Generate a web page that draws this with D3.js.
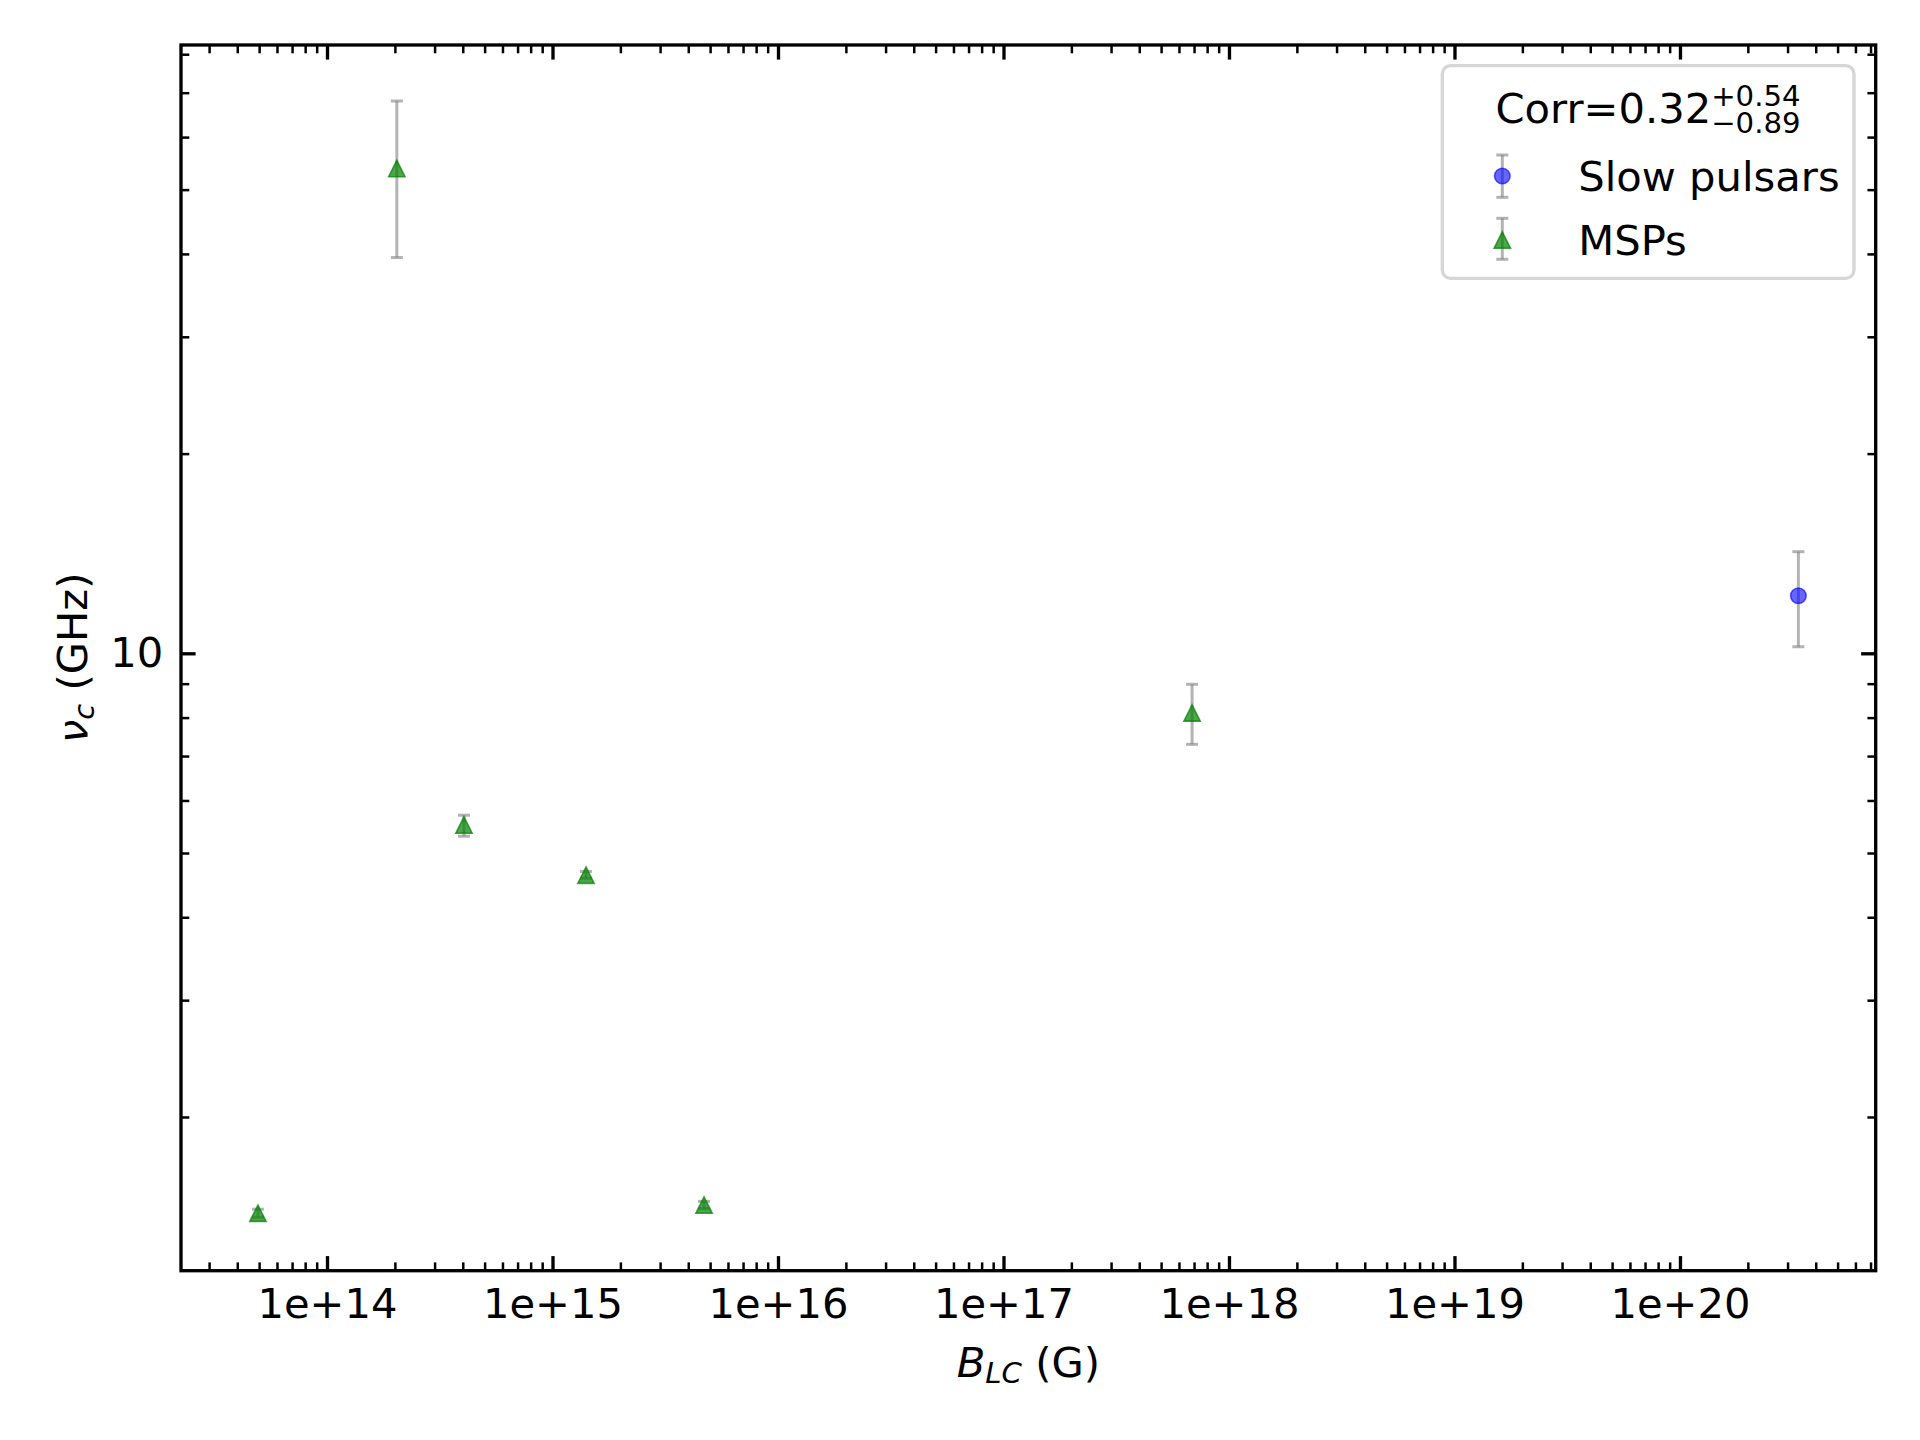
<!DOCTYPE html>
<html>
<head>
<meta charset="utf-8">
<script src="https://cdn.jsdelivr.net/npm/d3@7"></script>
<style>
  html, body { margin: 0; padding: 0; background: #fff; }
  svg { display: block; }
  text { font-family: "DejaVu Sans", sans-serif; fill: #000; }
</style>
</head>
<body>
<svg id="chart" width="1920" height="1440"></svg>
<script>
// ---------------- data ----------------
const mspB     = [4.94e13, 2.04e14, 4.05e14, 1.408e15, 4.70e15, 6.86e17];
const mspNu    = [1.432,   53.8,    5.51,    4.63,     1.473,   8.13];
const mspNuLo  = [1.412,   39.5,    5.30,    4.58,     1.455,   7.29];
const mspNuHi  = [1.452,   68.0,    5.70,    4.69,     1.492,   8.98];

const slowB    = [3.35e20];
const slowNu   = [12.21];
const slowNuLo = [10.23];
const slowNuHi = [14.23];

const xMajorTicks = [1e14, 1e15, 1e16, 1e17, 1e18, 1e19, 1e20];
const yMajorTicks = [10];
const legendLabels = ["Slow pulsars", "MSPs"];
const corrText = ["Corr=0.32", "+0.54", "\u22120.89"];

// ---------------- layout ----------------
const W = 1920, H = 1440;
const L = 181, R = 1875.7, T = 45, B = 1270.7;
const FS = 41.67;
const majorLen = 14.6, minorLen = 8.3;
const majorW = 3.33, minorW = 2.5;

const svg = d3.select("#chart");

const x = d3.scaleLog().domain([Math.pow(10, 13.3525), Math.pow(10, 20.868)]).range([L, R]);
const y = d3.scaleLog().domain([1.173, 82.6]).range([B, T]);

function minorTicks(scale) {
  const [d0, d1] = scale.domain();
  const out = [];
  for (let k = Math.floor(Math.log10(d0)) - 1; k <= Math.ceil(Math.log10(d1)); k++) {
    for (let m = 2; m <= 9; m++) {
      const v = m * Math.pow(10, k);
      if (v >= d0 && v <= d1) out.push(v);
    }
  }
  return out;
}
const xMinor = minorTicks(x);
const yMinor = minorTicks(y);

function styleAxis(g, w) {
  g.select(".domain").remove();
  g.selectAll(".tick line").attr("stroke", "#000").attr("stroke-width", w);
  g.selectAll(".tick text").attr("font-family", "DejaVu Sans").attr("font-size", FS).attr("fill", "#000");
  g.attr("font-family", null).attr("font-size", null);
}

// bottom axis
svg.append("g").attr("transform", `translate(0,${B})`)
  .call(d3.axisBottom(x).tickValues(xMinor).tickFormat("").tickSizeInner(-minorLen).tickSizeOuter(0))
  .call(g => styleAxis(g, minorW));
svg.append("g").attr("transform", `translate(0,${B})`)
  .call(d3.axisBottom(x).tickValues(xMajorTicks).tickFormat(d => "1e+" + Math.round(Math.log10(d)))
        .tickSizeInner(-majorLen).tickSizeOuter(0).tickPadding(18))
  .call(g => styleAxis(g, majorW));
// top axis
svg.append("g").attr("transform", `translate(0,${T})`)
  .call(d3.axisTop(x).tickValues(xMinor).tickFormat("").tickSizeInner(-minorLen).tickSizeOuter(0))
  .call(g => styleAxis(g, minorW));
svg.append("g").attr("transform", `translate(0,${T})`)
  .call(d3.axisTop(x).tickValues(xMajorTicks).tickFormat("").tickSizeInner(-majorLen).tickSizeOuter(0))
  .call(g => styleAxis(g, majorW));
// left axis
svg.append("g").attr("transform", `translate(${L},0)`)
  .call(d3.axisLeft(y).tickValues(yMinor).tickFormat("").tickSizeInner(-minorLen).tickSizeOuter(0))
  .call(g => styleAxis(g, minorW));
svg.append("g").attr("transform", `translate(${L},0)`)
  .call(d3.axisLeft(y).tickValues(yMajorTicks).tickFormat(d3.format("d"))
        .tickSizeInner(-majorLen).tickSizeOuter(0).tickPadding(17.7))
  .call(g => styleAxis(g, majorW));
// right axis
svg.append("g").attr("transform", `translate(${R},0)`)
  .call(d3.axisRight(y).tickValues(yMinor).tickFormat("").tickSizeInner(-minorLen).tickSizeOuter(0))
  .call(g => styleAxis(g, minorW));
svg.append("g").attr("transform", `translate(${R},0)`)
  .call(d3.axisRight(y).tickValues(yMajorTicks).tickFormat("").tickSizeInner(-majorLen).tickSizeOuter(0))
  .call(g => styleAxis(g, majorW));

// frame
svg.append("rect").attr("x", L).attr("y", T).attr("width", R - L).attr("height", B - T)
  .attr("fill", "none").attr("stroke", "#000").attr("stroke-width", 3.33);

// ---------------- marks ----------------
const errColor = "#808080", errOpacity = 0.6, errW = 3, capHalf = 6;
const triH = 8.2;
const triPath = `M0,${-triH}L${triH},${triH}L${-triH},${triH}Z`;

function drawErr(g, xs, lo, hi) {
  const data = xs.map((v, i) => ({ x: v, lo: lo[i], hi: hi[i] }));
  const e = g.append("g").attr("stroke", errColor).attr("stroke-opacity", errOpacity).attr("stroke-width", errW);
  e.selectAll("line.bar").data(data).join("line").attr("class", "bar")
    .attr("x1", d => x(d.x)).attr("x2", d => x(d.x)).attr("y1", d => y(d.lo)).attr("y2", d => y(d.hi));
  e.selectAll("line.capLo").data(data).join("line").attr("class", "capLo")
    .attr("x1", d => x(d.x) - capHalf).attr("x2", d => x(d.x) + capHalf).attr("y1", d => y(d.lo)).attr("y2", d => y(d.lo));
  e.selectAll("line.capHi").data(data).join("line").attr("class", "capHi")
    .attr("x1", d => x(d.x) - capHalf).attr("x2", d => x(d.x) + capHalf).attr("y1", d => y(d.hi)).attr("y2", d => y(d.hi));
}

const plot = svg.append("g");
drawErr(plot, slowB, slowNuLo, slowNuHi);
drawErr(plot, mspB, mspNuLo, mspNuHi);

plot.append("g").selectAll("circle").data(slowB.map((v, i) => ({ x: v, y: slowNu[i] }))).join("circle")
  .attr("cx", d => x(d.x)).attr("cy", d => y(d.y)).attr("r", 7.8)
  .attr("fill", "#0000ff").attr("fill-opacity", 0.6)
  .attr("stroke", "#0000ff").attr("stroke-opacity", 0.6).attr("stroke-width", 1.6);

plot.append("g").selectAll("path").data(mspB.map((v, i) => ({ x: v, y: mspNu[i] }))).join("path")
  .attr("transform", d => `translate(${x(d.x)},${y(d.y)})`).attr("d", triPath)
  .attr("fill", "#008000").attr("fill-opacity", 0.7)
  .attr("stroke", "#008000").attr("stroke-opacity", 0.7).attr("stroke-width", 1.6).attr("stroke-linejoin", "miter");

// ---------------- axis labels ----------------
const xl = svg.append("text").attr("x", (L + R) / 2).attr("y", 1376.7)
  .attr("text-anchor", "middle").attr("font-size", FS);
xl.append("tspan").attr("font-style", "italic").text("B");
xl.append("tspan").attr("font-style", "italic").attr("font-size", FS * 0.7).attr("dy", 6.5).text("LC");
xl.append("tspan").attr("dy", -6.5).text(" (G)");

const yl = svg.append("text").attr("transform", `translate(87.3,${(T + B) / 2}) rotate(-90)`)
  .attr("text-anchor", "middle").attr("font-size", FS);
yl.append("tspan").attr("font-style", "italic").text("\u03bd");
yl.append("tspan").attr("font-style", "italic").attr("font-size", FS * 0.7).attr("dy", 6.5).text("c");
yl.append("tspan").attr("dy", -6.5).text(" (GHz)");

// ---------------- legend ----------------
const leg = svg.append("g");
leg.append("rect").attr("x", 1442.3).attr("y", 65.7).attr("width", 1854 - 1442.3).attr("height", 278.3 - 65.7)
  .attr("rx", 8.3).attr("ry", 8.3)
  .attr("fill", "#fff").attr("fill-opacity", 0.8)
  .attr("stroke", "#d6d6d6").attr("stroke-width", 3.33);

const tMain = leg.append("text").attr("y", 123.3).attr("font-size", FS).text(corrText[0]);
const tSup = leg.append("text").attr("y", 106).attr("font-size", FS * 0.7).text(corrText[1]);
const tSub = leg.append("text").attr("y", 133.3).attr("font-size", FS * 0.7).text(corrText[2]);
const wMain = tMain.node().getComputedTextLength();
const wScript = Math.max(tSup.node().getComputedTextLength(), tSub.node().getComputedTextLength());
const tx0 = 1648 - (wMain + wScript) / 2;
tMain.attr("x", tx0);
tSup.attr("x", tx0 + wMain);
tSub.attr("x", tx0 + wMain);

const legRows = [
  { label: legendLabels[0], cy: 176, lo: 155, hi: 197.3, kind: "circle" },
  { label: legendLabels[1], cy: 240, lo: 218.3, hi: 259.3, kind: "tri" }
];
const lx = 1502.3;
legRows.forEach(r => {
  const e = leg.append("g").attr("stroke", errColor).attr("stroke-opacity", errOpacity).attr("stroke-width", errW);
  e.append("line").attr("x1", lx).attr("x2", lx).attr("y1", r.lo).attr("y2", r.hi);
  e.append("line").attr("x1", lx - capHalf).attr("x2", lx + capHalf).attr("y1", r.lo).attr("y2", r.lo);
  e.append("line").attr("x1", lx - capHalf).attr("x2", lx + capHalf).attr("y1", r.hi).attr("y2", r.hi);
  if (r.kind === "circle") {
    leg.append("circle").attr("cx", lx).attr("cy", r.cy).attr("r", 7.8)
      .attr("fill", "#0000ff").attr("fill-opacity", 0.6)
      .attr("stroke", "#0000ff").attr("stroke-opacity", 0.6).attr("stroke-width", 1.6);
  } else {
    leg.append("path").attr("transform", `translate(${lx},${r.cy})`).attr("d", triPath)
      .attr("fill", "#008000").attr("fill-opacity", 0.7)
      .attr("stroke", "#008000").attr("stroke-opacity", 0.7).attr("stroke-width", 1.6);
  }
  leg.append("text").attr("x", 1578.3).attr("y", r.cy + 14.5).attr("font-size", FS).text(r.label);
});
</script>
</body>
</html>
